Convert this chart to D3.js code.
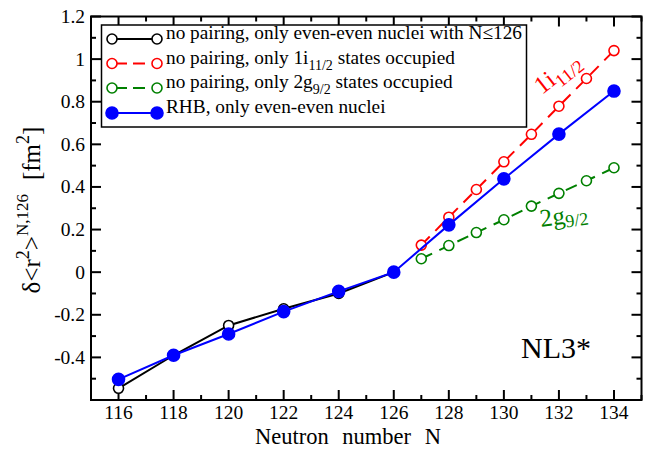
<!DOCTYPE html>
<html>
<head>
<meta charset="utf-8">
<script src="https://cdn.jsdelivr.net/npm/d3@7/dist/d3.min.js"></script>
<style>
  html, body { margin: 0; padding: 0; background: #fff; }
  svg { display: block; }
</style>
</head>
<body>
<svg id="chart" width="650" height="449" font-family="'Liberation Serif', 'Times New Roman', serif"></svg>
<script>
// Neutron numbers and charge-radius differences (fm^2) relative to N = 126
const evenN = [116, 118, 120, 122, 124, 126];
const noPairEven = [-0.545, -0.39, -0.25, -0.172, -0.10, 0.0];

const rhbN = [116, 118, 120, 122, 124, 126, 128, 130, 132, 134];
const rhbVals = [-0.503, -0.39, -0.29, -0.185, -0.09, 0.0, 0.222, 0.438, 0.648, 0.85];

const oddN = [127, 128, 129, 130, 131, 132, 133, 134];
const i112Vals = [0.127, 0.258, 0.388, 0.518, 0.647, 0.779, 0.909, 1.04];
const g92Vals = [0.063, 0.125, 0.186, 0.246, 0.31, 0.37, 0.429, 0.49];

const xTicks = [116, 118, 120, 122, 124, 126, 128, 130, 132, 134];
const yTicks = [-0.4, -0.2, 0, 0.2, 0.4, 0.6, 0.8, 1, 1.2];
const yTickLabels = ["-0.4", "-0.2", "0", "0.2", "0.4", "0.6", "0.8", "1", "1.2"];

const svg = d3.select("#chart");
const L = 91, R = 641.5, T = 16.5, B = 400;

const x = d3.scaleLinear().domain([115, 135]).range([L, R]);
const y = d3.scaleLinear().domain([-0.6, 1.2]).range([B, T]);

const fontAxis = 19.5;

// frame ticks on all four sides, pointing inward
const minorX = d3.range(115, 136, 1).filter(v => !xTicks.includes(v));
const minorY = d3.range(-6, 13, 1).map(v => v / 10).filter(v => !yTicks.some(t => Math.abs(t - v) < 1e-9));

const tickG = svg.append("g").attr("stroke", "#000").attr("stroke-width", 2);
const majLen = 10, minLen = 5;
xTicks.forEach(v => {
  tickG.append("line").attr("x1", x(v)).attr("x2", x(v)).attr("y1", B).attr("y2", B - majLen);
  tickG.append("line").attr("x1", x(v)).attr("x2", x(v)).attr("y1", T).attr("y2", T + majLen);
});
minorX.forEach(v => {
  tickG.append("line").attr("x1", x(v)).attr("x2", x(v)).attr("y1", B).attr("y2", B - minLen);
  tickG.append("line").attr("x1", x(v)).attr("x2", x(v)).attr("y1", T).attr("y2", T + minLen);
});
yTicks.forEach(v => {
  tickG.append("line").attr("x1", L).attr("x2", L + majLen).attr("y1", y(v)).attr("y2", y(v));
  tickG.append("line").attr("x1", R).attr("x2", R - majLen).attr("y1", y(v)).attr("y2", y(v));
});
minorY.forEach(v => {
  tickG.append("line").attr("x1", L).attr("x2", L + minLen).attr("y1", y(v)).attr("y2", y(v));
  tickG.append("line").attr("x1", R).attr("x2", R - minLen).attr("y1", y(v)).attr("y2", y(v));
});

// tick labels
svg.append("g").selectAll("text").data(xTicks).join("text")
  .attr("x", d => x(d)).attr("y", B + 19)
  .attr("text-anchor", "middle").attr("font-size", fontAxis)
  .text(d => d);
svg.append("g").selectAll("text").data(yTicks).join("text")
  .attr("x", L - 6).attr("y", d => y(d) + 6.5)
  .attr("text-anchor", "end").attr("font-size", fontAxis)
  .text((d, i) => yTickLabels[i]);

// axis titles
svg.append("text").attr("x", 348).attr("y", 443.5)
  .attr("text-anchor", "middle").attr("font-size", 22.5).attr("word-spacing", 8)
  .text("Neutron number N");

const yt = svg.append("text")
  .attr("transform", `translate(40, 210) rotate(-90)`)
  .attr("text-anchor", "middle").attr("font-size", 25);
yt.append("tspan").text("δ<r");
yt.append("tspan").attr("dy", -11).attr("font-size", 18).text("2");
yt.append("tspan").attr("dy", 11).text(">");
yt.append("tspan").attr("dy", -12).attr("font-size", 17).text("N,126");
yt.append("tspan").attr("dy", 12).attr("dx", 14).text("[fm");
yt.append("tspan").attr("dy", -11).attr("font-size", 18).text("2");
yt.append("tspan").attr("dy", 11).text("]");

// series
const line = d3.line().x(d => x(d[0])).y(d => y(d[1]));
const zip = (a, b) => a.map((v, i) => [v, b[i]]);

function drawSeries(pts, color, dash, filled, r) {
  const g = svg.append("g");
  g.append("path").datum(pts).attr("d", line)
    .attr("fill", "none").attr("stroke", color).attr("stroke-width", 2)
    .attr("stroke-dasharray", dash);
  g.selectAll("circle").data(pts).join("circle")
    .attr("cx", d => x(d[0])).attr("cy", d => y(d[1])).attr("r", r)
    .attr("fill", filled ? color : "#fff")
    .attr("stroke", color).attr("stroke-width", 1.6);
}

drawSeries(zip(oddN, g92Vals), "#008000", "12,8", false, 5);
drawSeries(zip(oddN, i112Vals), "#ff0000", "12,8", false, 5);
drawSeries(zip(evenN, noPairEven), "#000", null, false, 5);
drawSeries(zip(rhbN, rhbVals), "#0000ff", null, true, 6);

// frame
svg.append("rect").attr("x", L).attr("y", T).attr("width", R - L).attr("height", B - T)
  .attr("fill", "none").attr("stroke", "#000").attr("stroke-width", 2);

// legend
const legend = [
  { color: "#000", dash: null, filled: false, r: 5, parts: [["no pairing, only even-even nuclei with N≤126"]] },
  { color: "#ff0000", dash: "12,8", filled: false, r: 5, parts: [["no pairing, only 1i"], ["11/2", "sub"], [" states occupied"]] },
  { color: "#008000", dash: "12,8", filled: false, r: 5, parts: [["no pairing, only 2g"], ["9/2", "sub"], [" states occupied"]] },
  { color: "#0000ff", dash: null, filled: true, r: 6, parts: [["RHB, only even-even nuclei"]] }
];
svg.append("rect").attr("x", 101.5).attr("y", 25).attr("width", 425).attr("height", 102)
  .attr("fill", "#fff").attr("stroke", "#000").attr("stroke-width", 1.5);
const rowY = [39, 63.5, 88, 113];
legend.forEach((item, i) => {
  const g = svg.append("g");
  const cy = rowY[i];
  g.append("line").attr("x1", 112).attr("x2", 157).attr("y1", cy).attr("y2", cy)
    .attr("stroke", item.color).attr("stroke-width", 2).attr("stroke-dasharray", item.dash ? "0,5,10,6,12,20" : null);
  [112, 157].forEach(cx => g.append("circle").attr("cx", cx).attr("cy", cy).attr("r", item.r)
    .attr("fill", item.filled ? item.color : "#fff").attr("stroke", item.color).attr("stroke-width", 1.6));
  const t = g.append("text").attr("x", 166).attr("y", cy + 6).attr("font-size", 19.3);
  item.parts.forEach(p => {
    if (p[1] === "sub") t.append("tspan").attr("dy", 6).attr("font-size", 14).text(p[0]);
    else t.append("tspan").attr("dy", t.selectAll("tspan").size() ? -6 : 0).text(p[0]);
  });
});

// curve annotations
const a1 = svg.append("text").attr("transform", "translate(542,95) rotate(-38)")
  .attr("fill", "#ff0000").attr("font-size", 25);
a1.append("tspan").text("1i");
a1.append("tspan").attr("dy", 6).attr("font-size", 18).text("11/2");

const a2 = svg.append("text").attr("transform", "translate(541,227) rotate(-8)")
  .attr("fill", "#008000").attr("font-size", 25);
a2.append("tspan").text("2g");
a2.append("tspan").attr("dy", 4).attr("font-size", 18).text("9/2");

svg.append("text").attr("x", 521).attr("y", 358).attr("font-size", 30).text("NL3*");
</script>
</body>
</html>
